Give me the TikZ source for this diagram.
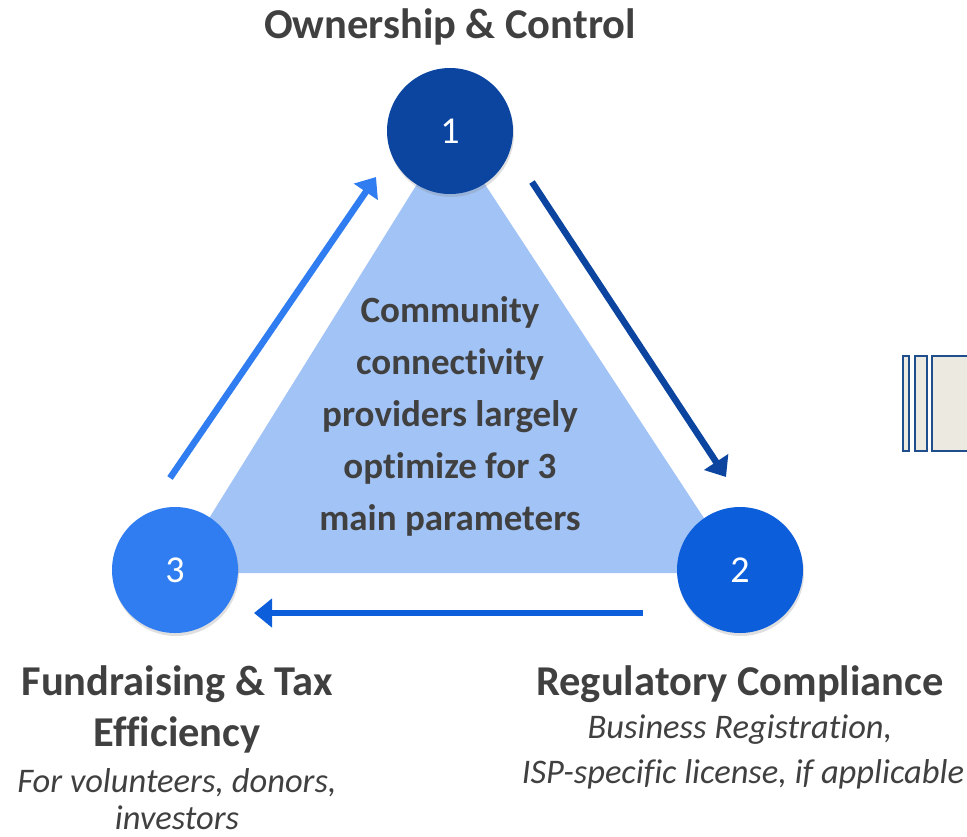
\documentclass[tikz,border=0pt]{standalone}
\usepackage{fontspec}
\setmainfont{Carlito}[Ligatures=NoCommon]
\usetikzlibrary{arrows.meta,shadows}
\definecolor{cOne}{HTML}{0B45A0}
\definecolor{cTwo}{HTML}{0C5EDB}
\definecolor{cThree}{HTML}{2F7DF0}
\definecolor{tri}{HTML}{A2C3F6}
\definecolor{txt}{HTML}{404040}
\definecolor{boxedge}{HTML}{1F4E8C}
\definecolor{boxfill}{HTML}{ECEAE0}
\tikzset{
  numcirc/.style={circle,minimum size=126pt,inner sep=0pt,text=white,font=\fontsize{38}{44}\selectfont,
    drop shadow={opacity=0.25,shadow xshift=1pt,shadow yshift=-3pt}},
  flow/.style={line width=6.5pt,-{Triangle[length=18pt,width=28pt]}},
  head/.style={text=txt,font=\bfseries\fontsize{42.5}{51}\selectfont,anchor=base,inner sep=0pt},
  sub/.style={text=txt,font=\itshape\fontsize{34.5}{44}\selectfont,anchor=base,inner sep=0pt},
  stubbox/.style={draw=boxedge,line width=2pt,fill=boxfill}
}
\begin{document}
\begin{tikzpicture}[x=1pt,y=-1pt]
\useasboundingbox (0,0) rectangle (967,836);
% triangle
\coordinate (t1) at (450,131);
\coordinate (t2) at (740,573);
\coordinate (t3) at (175,573);
\fill[tri] (t1) -- (t2) -- (t3) -- cycle;
% stub boxes at right edge
\draw[stubbox] (903,356) rectangle (909,451);
\draw[stubbox] (915,356) rectangle (927,451);
\draw[stubbox] (932,356) rectangle (975,451);
% circles
\node[numcirc,fill=cOne] (n1) at (450,131) {1};
\node[numcirc,fill=cTwo] (n2) at (740,570) {2};
\node[numcirc,fill=cThree] (n3) at (175,570) {3};
% arrows
\coordinate (a1s) at (532,182);
\coordinate (a1e) at (726,477);
\coordinate (a2s) at (643,613);
\coordinate (a2e) at (254,613);
\coordinate (a3s) at (170,478);
\coordinate (a3e) at (376,177);
\draw[flow,cOne] (a1s) -- (a1e);
\draw[flow,cTwo] (a2s) -- (a2e);
\draw[flow,cThree] (a3s) -- (a3e);
% center text
\node[text=txt,font=\bfseries\fontsize{37}{52}\selectfont,align=center] (ctr) at (450,416)
  {Community\\connectivity\\providers largely\\optimize for 3\\main parameters};
% labels
\node[head] (l1) at (450,38) {Ownership \& Control};
\node[head] (l2) at (740,695) {Regulatory Compliance};
\node[sub] (s2a) at (740,738) {Business Registration,};
\node[sub] (s2b) at (743,783) {ISP-specific license, if applicable};
\node[head] (l3a) at (177,695) {Fundraising \& Tax};
\node[head] (l3b) at (177,746) {Efficiency};
\node[sub] (s3a) at (177,792) {For volunteers, donors,};
\node[sub] (s3b) at (177,829) {investors};
\end{tikzpicture}
\end{document}
